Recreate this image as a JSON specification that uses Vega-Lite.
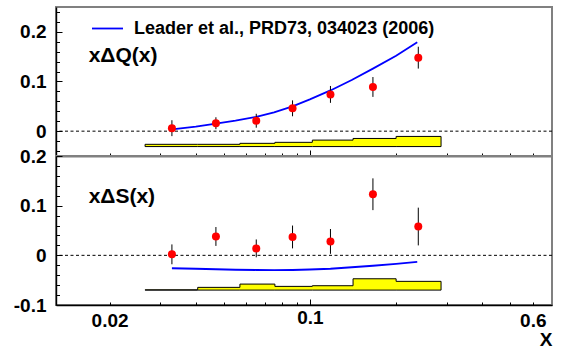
{
  "$schema": "https://vega.github.io/schema/vega-lite/v6.json",
  "padding": {"left": 12, "top": 6, "right": 5, "bottom": 2},
  "bounds": "flush",
  "spacing": 0,
  "resolve": {"scale": {"y": "independent"}},
  "config": {
    "font": "Liberation Sans",
    "view": {"stroke": "#808080", "strokeWidth": 2},
    "axis": {"domainColor": "black", "domainWidth": 1.4, "tickColor": "black", "tickWidth": 1, "labelFont": "Liberation Sans", "labelFontWeight": "bold", "labelFontSize": 19, "labelColor": "black", "grid": false, "titleColor": "black", "labelOverlap": false, "labelFlush": false}
  },
  "datasets": {
    "q_pts": [{"x":0.033,"y":0.006,"err":0.016},{"x":0.047,"y":0.016,"err":0.012},{"x":0.065,"y":0.021,"err":0.014},{"x":0.087,"y":0.046,"err":0.016},{"x":0.118,"y":0.074,"err":0.017},{"x":0.166,"y":0.089,"err":0.020},{"x":0.239,"y":0.148,"err":0.022}],
    "s_pts": [{"x":0.033,"y":0.002,"err":0.020},{"x":0.047,"y":0.038,"err":0.019},{"x":0.065,"y":0.014,"err":0.018},{"x":0.087,"y":0.037,"err":0.023},{"x":0.118,"y":0.028,"err":0.025},{"x":0.166,"y":0.123,"err":0.032},{"x":0.239,"y":0.058,"err":0.038}],
    "q_curve": [{"x":0.033,"y":0.0035},{"x":0.04,"y":0.009},{"x":0.047,"y":0.015},{"x":0.055,"y":0.021},{"x":0.065,"y":0.029},{"x":0.075,"y":0.038},{"x":0.087,"y":0.05},{"x":0.1,"y":0.064},{"x":0.118,"y":0.082},{"x":0.14,"y":0.103},{"x":0.166,"y":0.126},{"x":0.2,"y":0.152},{"x":0.237,"y":0.179}],
    "s_curve": [{"x":0.033,"y":-0.026},{"x":0.04,"y":-0.027},{"x":0.047,"y":-0.028},{"x":0.055,"y":-0.029},{"x":0.065,"y":-0.0295},{"x":0.075,"y":-0.0298},{"x":0.087,"y":-0.0295},{"x":0.1,"y":-0.0285},{"x":0.118,"y":-0.027},{"x":0.14,"y":-0.024},{"x":0.166,"y":-0.021},{"x":0.2,"y":-0.017},{"x":0.237,"y":-0.013}],
    "q_sys": [{"xlo":0.0266,"xhi":0.0406,"top":-0.0265},{"xlo":0.0406,"xhi":0.057,"top":-0.0265},{"xlo":0.057,"xhi":0.0755,"top":-0.0245},{"xlo":0.0755,"xhi":0.102,"top":-0.0225},{"xlo":0.102,"xhi":0.1415,"top":-0.018},{"xlo":0.1415,"xhi":0.2,"top":-0.0147},{"xlo":0.2,"xhi":0.287,"top":-0.0106}],
    "s_sys": [{"xlo":0.0266,"xhi":0.0406,"top":-0.0695},{"xlo":0.0406,"xhi":0.057,"top":-0.0645},{"xlo":0.057,"xhi":0.0755,"top":-0.0579},{"xlo":0.0755,"xhi":0.102,"top":-0.0625},{"xlo":0.102,"xhi":0.1415,"top":-0.0612},{"xlo":0.1415,"xhi":0.2,"top":-0.0472},{"xlo":0.2,"xhi":0.287,"top":-0.0524}]
  },
  "vconcat": [
    {
      "width": 496,
      "height": 149,
      "layer": [
        {
          "data": {"name": "q_sys"},
          "transform": [{"fold": ["xlo", "xhi"], "as": ["edge", "x"]}],
          "mark": {"type": "area", "fill": "#ffff00", "stroke": "black", "strokeWidth": 1},
          "encoding": {
            "x": {"field": "x", "type": "quantitative", "scale": {"type": "log", "domain": [0.013, 0.7], "nice": false},
              "axis": {"values": [0.02,0.03,0.04,0.05,0.06,0.07,0.08,0.09,0.1,0.2,0.3,0.4,0.5,0.6], "labels": false, "title": null,
                "tickSize": {"condition": {"test": "abs(datum.value-0.1)<1e-9", "value": -6}, "value": -3}}},
            "y": {"field": "top", "type": "quantitative", "stack": null, "scale": {"domain": [-0.05, 0.25], "nice": false, "zero": false},
              "axis": {"orient": "left", "values": [0, 0.1, 0.2], "format": ".1~f", "title": null, "tickSize": -6, "labelPadding": 16}},
            "y2": {"datum": -0.031}
          }
        },
        {
          "data": {"values": [{}]},
          "mark": {"type": "rule", "color": "black", "strokeWidth": 1, "strokeDash": [3, 2.5]},
          "encoding": {"y": {"datum": 0, "type": "quantitative", "scale": {"domain": [-0.05, 0.25], "nice": false, "zero": false},
            "axis": {"orient": "left", "values": [-0.04,-0.02,0.02,0.04,0.06,0.08,0.12,0.14,0.16,0.18,0.22,0.24], "labels": false, "domain": false, "title": null, "tickSize": -3.5}}}
        },
        {
          "data": {"name": "q_curve"},
          "mark": {"type": "line", "strokeWidth": 1.8},
          "encoding": {
            "x": {"field": "x", "type": "quantitative", "title": null, "scale": {"type": "log", "domain": [0.013, 0.7], "nice": false}},
            "y": {"field": "y", "type": "quantitative", "axis": null, "scale": {"domain": [-0.05, 0.25], "nice": false, "zero": false}},
            "color": {"datum": "Leader et al., PRD73, 034023 (2006)", "scale": {"range": ["#0000ff"]},
              "legend": {"orient": "none", "legendX": 35, "legendY": 5, "symbolType": "stroke", "symbolSize": 961, "symbolStrokeWidth": 1.8, "labelFontSize": 18, "labelFontWeight": "bold", "labelColor": "black", "labelLimit": 600, "labelOffset": 10, "padding": 0, "title": null}}
          }
        },
        {
          "data": {"name": "q_pts"},
          "mark": {"type": "errorbar", "color": "black", "thickness": 1},
          "encoding": {
            "x": {"field": "x", "type": "quantitative", "title": null, "scale": {"type": "log", "domain": [0.013, 0.7], "nice": false}},
            "y": {"field": "y", "type": "quantitative", "axis": null, "scale": {"domain": [-0.05, 0.25], "nice": false, "zero": false}},
            "yError": {"field": "err"}
          }
        },
        {
          "data": {"name": "q_pts"},
          "mark": {"type": "circle", "color": "#ff0000", "opacity": 1, "size": 64},
          "encoding": {
            "x": {"field": "x", "type": "quantitative", "title": null, "scale": {"type": "log", "domain": [0.013, 0.7], "nice": false}},
            "y": {"field": "y", "type": "quantitative", "axis": null, "scale": {"domain": [-0.05, 0.25], "nice": false, "zero": false}}
          }
        },
        {
          "data": {"values": [{}]},
          "mark": {"type": "text", "text": "x\u0394Q(x)", "fontSize": 21, "fontWeight": "bold", "align": "left", "baseline": "alphabetic", "color": "black"},
          "encoding": {
            "x": {"datum": 0.0169, "type": "quantitative", "scale": {"type": "log", "domain": [0.013, 0.7], "nice": false}},
            "y": {"datum": 0.139, "type": "quantitative", "axis": null, "scale": {"domain": [-0.05, 0.25], "nice": false, "zero": false}}
          }
        }
      ],
      "resolve": {"scale": {"color": "independent"}, "legend": {"color": "independent"}, "axis": {"y": "independent"}}
    },
    {
      "width": 496,
      "height": 149,
      "layer": [
        {
          "data": {"name": "s_sys"},
          "transform": [{"fold": ["xlo", "xhi"], "as": ["edge", "x"]}],
          "mark": {"type": "area", "fill": "#ffff00", "stroke": "black", "strokeWidth": 1},
          "encoding": {
            "x": {"field": "x", "type": "quantitative", "title": "X", "scale": {"type": "log", "domain": [0.013, 0.7], "nice": false},
              "axis": {"values": [0.02,0.03,0.04,0.05,0.06,0.07,0.08,0.09,0.1,0.2,0.3,0.4,0.5,0.6],
                "labelExpr": "(abs(datum.value-0.02)<1e-9 || abs(datum.value-0.1)<1e-9 || abs(datum.value-0.6)<1e-9) ? format(datum.value, '~g') : ''",
                "tickSize": {"condition": {"test": "abs(datum.value-0.1)<1e-9", "value": -6}, "value": -3},
                "labelPadding": 9,
                "title": "X", "titleFontSize": 19, "titleFontWeight": "bold", "titleAnchor": "end", "titleAlign": "right", "titlePadding": 0}},
            "y": {"field": "top", "type": "quantitative", "stack": null, "scale": {"domain": [-0.1, 0.2], "nice": false, "zero": false},
              "axis": {"orient": "left", "values": [-0.1, 0, 0.1, 0.2], "title": null, "tickSize": -6, "labelPadding": 16,
                "labelExpr": "replace(format(datum.value, '.1~f'), '\u2212', '-')"}},
            "y2": {"datum": -0.07}
          }
        },
        {
          "data": {"values": [{}]},
          "mark": {"type": "rule", "color": "black", "strokeWidth": 1, "strokeDash": [3, 2.5]},
          "encoding": {"y": {"datum": 0, "type": "quantitative", "scale": {"domain": [-0.1, 0.2], "nice": false, "zero": false},
            "axis": {"orient": "left", "values": [-0.08,-0.06,-0.04,-0.02,0.02,0.04,0.06,0.08,0.12,0.14,0.16,0.18], "labels": false, "domain": false, "title": null, "tickSize": -3.5}}}
        },
        {
          "data": {"name": "s_curve"},
          "mark": {"type": "line", "strokeWidth": 1.8, "color": "#0000ff"},
          "encoding": {
            "x": {"field": "x", "type": "quantitative", "scale": {"type": "log", "domain": [0.013, 0.7], "nice": false}},
            "y": {"field": "y", "type": "quantitative", "axis": null, "scale": {"domain": [-0.1, 0.2], "nice": false, "zero": false}}
          }
        },
        {
          "data": {"name": "s_pts"},
          "mark": {"type": "errorbar", "color": "black", "thickness": 1},
          "encoding": {
            "x": {"field": "x", "type": "quantitative", "scale": {"type": "log", "domain": [0.013, 0.7], "nice": false}},
            "y": {"field": "y", "type": "quantitative", "axis": null, "scale": {"domain": [-0.1, 0.2], "nice": false, "zero": false}},
            "yError": {"field": "err"}
          }
        },
        {
          "data": {"name": "s_pts"},
          "mark": {"type": "circle", "color": "#ff0000", "opacity": 1, "size": 64},
          "encoding": {
            "x": {"field": "x", "type": "quantitative", "scale": {"type": "log", "domain": [0.013, 0.7], "nice": false}},
            "y": {"field": "y", "type": "quantitative", "axis": null, "scale": {"domain": [-0.1, 0.2], "nice": false, "zero": false}}
          }
        },
        {
          "data": {"values": [{}]},
          "mark": {"type": "text", "text": "x\u0394S(x)", "fontSize": 21, "fontWeight": "bold", "align": "left", "baseline": "alphabetic", "color": "black"},
          "encoding": {
            "x": {"datum": 0.0169, "type": "quantitative", "scale": {"type": "log", "domain": [0.013, 0.7], "nice": false}},
            "y": {"datum": 0.106, "type": "quantitative", "axis": null, "scale": {"domain": [-0.1, 0.2], "nice": false, "zero": false}}
          }
        }
      ],
      "resolve": {"axis": {"y": "independent"}}
    }
  ]
}
